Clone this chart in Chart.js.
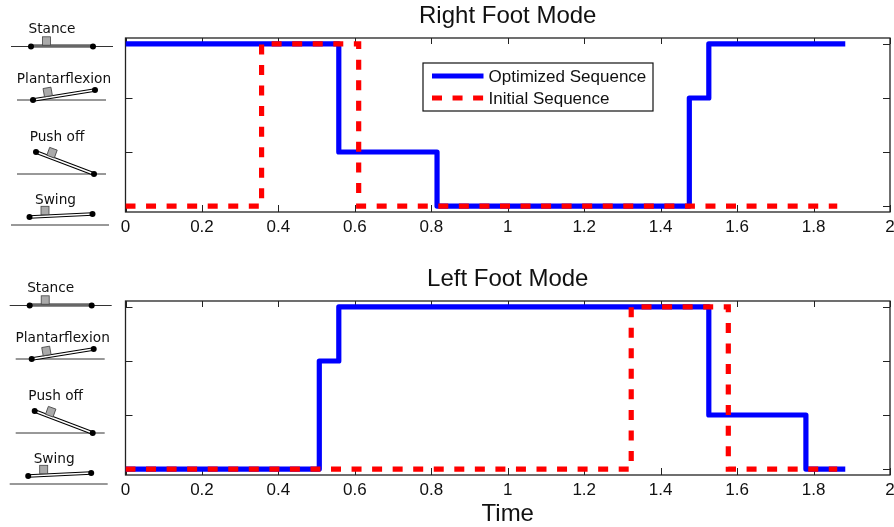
<!DOCTYPE html>
<html>
<head>
<meta charset="utf-8">
<title>Foot Mode</title>
<script src="https://cdn.jsdelivr.net/npm/chart.js@4/dist/chart.umd.js"></script>
<style>
  html, body { margin: 0; background: #fff; }
  #page { position: relative; width: 894px; height: 527px; overflow: hidden; }
  canvas, svg { position: absolute; left: 0; }
  svg { top: 0; }
  #rightChart { top: 0; }
  #leftChart { top: 263px; }
</style>
</head>
<body>
<div id="page">
  <canvas id="rightChart" width="894" height="263"></canvas>
  <canvas id="leftChart" width="894" height="264"></canvas>
  <svg id="icons" width="125" height="527"></svg>
</div>
<script>
// modes: 4 stance, 3 plantarflexion, 2 push off, 1 swing
const modeLevels = [1, 2, 3, 4];

const rightOptimizedTimes = [0, 0.558, 0.815, 1.475, 1.526, 1.883];
const rightOptimizedModes = [4, 2, 1, 3, 4, 4];
const rightInitialTimes = [0, 0.356, 0.61, 1.862];
const rightInitialModes = [1, 4, 1, 1];

const leftOptimizedTimes = [0, 0.507, 0.558, 1.526, 1.78, 1.883];
const leftOptimizedModes = [1, 3, 4, 2, 1, 1];
const leftInitialTimes = [0, 1.323, 1.577, 1.862];
const leftInitialModes = [1, 4, 1, 1];

const seriesNames = ['Optimized Sequence', 'Initial Sequence'];
const BLUE = '#0000ff';
const RED = '#ff0000';
const DASH = [10, 10.55];
const LINE_WIDTH = 5.2;
const FONT = '"Liberation Sans", Arial, sans-serif';

const toPoints = (xs, ys) => xs.map((x, i) => ({ x: x, y: ys[i] }));

// box round the plot with the short ticks pointing inwards
const framePlugin = {
  id: 'frame',
  beforeDatasetsDraw(chart) {
    const { ctx, chartArea: a, scales } = chart;
    ctx.save();
    ctx.strokeStyle = '#222';
    ctx.lineWidth = 1;
    ctx.beginPath();
    scales.x.ticks.forEach(t => {
      const px = Math.round(scales.x.getPixelForValue(t.value)) + 0.5;
      ctx.moveTo(px, a.top); ctx.lineTo(px, a.top + 6);
      ctx.moveTo(px, a.bottom); ctx.lineTo(px, a.bottom - 7);
    });
    scales.y.ticks.forEach(t => {
      const py = Math.round(scales.y.getPixelForValue(t.value)) + 0.5;
      ctx.moveTo(a.left, py); ctx.lineTo(a.left + 7, py);
      ctx.moveTo(a.right, py); ctx.lineTo(a.right - 7, py);
    });
    ctx.stroke();
    ctx.lineWidth = 1.3;
    ctx.strokeRect(a.left, a.top, a.right - a.left, a.bottom - a.top);
    ctx.restore();
  }
};

// legend box sits inside the plot, only on the top chart
const legendPlugin = {
  id: 'insideLegend',
  afterDatasetsDraw(chart) {
    const { ctx } = chart;
    ctx.save();
    ctx.fillStyle = '#fff';
    ctx.fillRect(423, 63, 230, 48);
    ctx.strokeStyle = '#111';
    ctx.lineWidth = 1.2;
    ctx.strokeRect(423, 63, 230, 48);
    ctx.lineWidth = LINE_WIDTH;
    ctx.strokeStyle = BLUE;
    ctx.beginPath(); ctx.moveTo(432, 76); ctx.lineTo(483.5, 76); ctx.stroke();
    ctx.strokeStyle = RED;
    ctx.setLineDash(DASH);
    ctx.beginPath(); ctx.moveTo(432, 98); ctx.lineTo(483.5, 98); ctx.stroke();
    ctx.fillStyle = '#111';
    ctx.font = '17px ' + FONT;
    ctx.textBaseline = 'alphabetic';
    ctx.fillText(seriesNames[0], 488.5, 82);
    ctx.fillText(seriesNames[1], 488.5, 104);
    ctx.restore();
  }
};

function buildChart(id, title, optimized, initial, axisTitle, axisHeight, plugins) {
  return new Chart(document.getElementById(id).getContext('2d'), {
    type: 'line',
    plugins: plugins,
    data: {
      datasets: [
        {
          label: seriesNames[0],
          data: optimized,
          stepped: true,
          borderColor: BLUE,
          borderWidth: LINE_WIDTH,
          borderJoinStyle: 'round',
          pointRadius: 0,
          order: 2
        },
        {
          label: seriesNames[1],
          data: initial,
          stepped: true,
          borderColor: RED,
          borderWidth: LINE_WIDTH,
          borderDash: DASH,
          pointRadius: 0,
          order: 1
        }
      ]
    },
    options: {
      responsive: false,
      animation: false,
      layout: { padding: { left: 0, right: 4, top: 0, bottom: 0 } },
      plugins: {
        legend: { display: false },
        tooltip: { enabled: false },
        title: {
          display: true,
          fullSize: false,
          text: title,
          color: '#111',
          font: { family: FONT, size: 24, weight: 'normal', lineHeight: 1.2 },
          padding: { top: 2, bottom: 7.2 }
        }
      },
      scales: {
        x: {
          type: 'linear',
          min: 0,
          max: 2,
          grid: { display: false, drawTicks: false },
          border: { display: false },
          title: {
            display: !!axisTitle,
            text: axisTitle,
            color: '#111',
            font: { family: FONT, size: 24 },
            padding: { top: -2, bottom: -2 }
          },
          ticks: {
            stepSize: 0.2,
            autoSkip: false,
            maxRotation: 0,
            padding: 5,
            color: '#111',
            font: { family: FONT, size: 17 },
            callback: v => String(+v.toFixed(1))
          },
          afterFit: s => { s.height = axisHeight; s.paddingRight = 0; s.paddingLeft = 0; }
        },
        y: {
          min: 0.89,
          max: 4.11,
          grid: { display: false, drawTicks: false },
          border: { display: false },
          ticks: { display: false },
          afterBuildTicks: s => { s.ticks = modeLevels.map(v => ({ value: v })); },
          afterFit: s => { s.width = 125.5; }
        }
      }
    }
  });
}

buildChart('rightChart', 'Right Foot Mode',
  toPoints(rightOptimizedTimes, rightOptimizedModes),
  toPoints(rightInitialTimes, rightInitialModes),
  '', 51, [framePlugin, legendPlugin]);

buildChart('leftChart', 'Left Foot Mode',
  toPoints(leftOptimizedTimes, leftOptimizedModes),
  toPoints(leftInitialTimes, leftInitialModes),
  'Time', 52, [framePlugin]);

// little foot sketches left of the plots, second set is the first one moved down
const sketches = [
  { name: 'Stance', tx: 52, ty: 33, gy: 46.5, gx: [11, 113], a: [31, 46.5], b: [93, 46.5], box: [46.5, 41, 0], solid: true },
  { name: 'Plantarflexion', tx: 64, ty: 83, gy: 100, gx: [17, 106], a: [33, 100], b: [95, 90], box: [47.7, 92, -10] },
  { name: 'Push off', tx: 57, ty: 141, gy: 174, gx: [17, 106], a: [36, 152], b: [94, 174], box: [52, 152.7, 20] },
  { name: 'Swing', tx: 55.5, ty: 204, gy: 225, gx: [11, 109], a: [29.5, 217], b: [92.5, 214], box: [45, 210.5, 0] }
];

function sketchSvg(s, dx, dy) {
  const foot = s.solid
    ? `<line x1="${s.a[0]}" y1="${s.a[1] - 0.5}" x2="${s.b[0]}" y2="${s.b[1] - 0.5}" stroke="#666" stroke-width="3.5"/>`
    : `<line x1="${s.a[0]}" y1="${s.a[1]}" x2="${s.b[0]}" y2="${s.b[1]}" stroke="#000" stroke-width="3.6"/>` +
      `<line x1="${s.a[0]}" y1="${s.a[1]}" x2="${s.b[0]}" y2="${s.b[1]}" stroke="#fff" stroke-width="1.6"/>`;
  return `<g transform="translate(${dx},${dy})">
    <text x="${s.tx}" y="${s.ty}" text-anchor="middle" font-family="DejaVu Sans" font-size="13.7" fill="#111">${s.name}</text>
    <line x1="${s.gx[0]}" y1="${s.gy}" x2="${s.gx[1]}" y2="${s.gy}" stroke="#333" stroke-width="1"/>
    ${foot}
    <rect x="-4" y="-4.2" width="8" height="8.4" fill="#aaa" stroke="#444" stroke-width="0.8"
      transform="translate(${s.box[0]},${s.box[1]}) rotate(${s.box[2]})"/>
    <circle cx="${s.a[0]}" cy="${s.a[1]}" r="3" fill="#000"/>
    <circle cx="${s.b[0]}" cy="${s.b[1]}" r="3" fill="#000"/>
  </g>`;
}

document.getElementById('icons').innerHTML =
  sketches.map(s => sketchSvg(s, 0, 0)).join('') +
  sketches.map(s => sketchSvg(s, -1.3, 259)).join('');
</script>
</body>
</html>
